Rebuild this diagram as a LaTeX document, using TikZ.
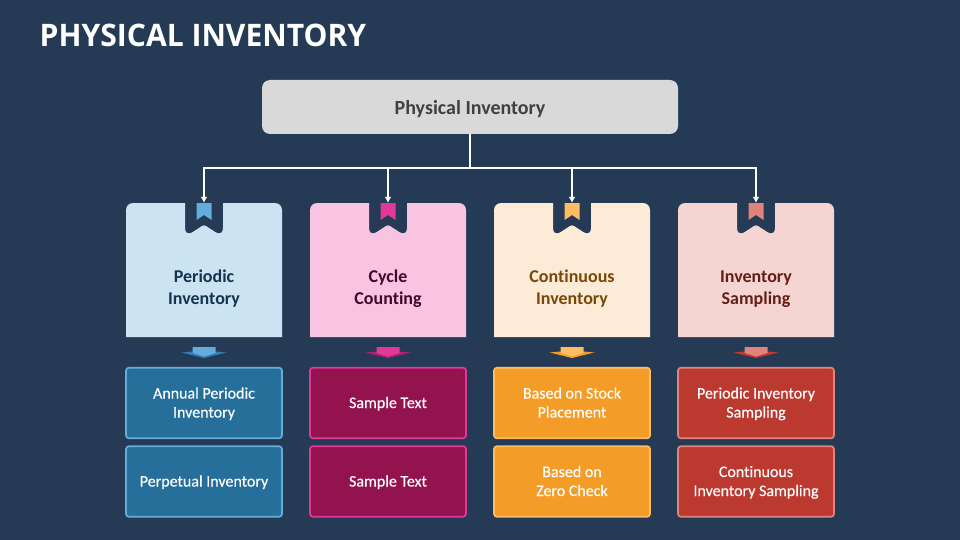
\documentclass[tikz,border=0pt]{standalone}
\usepackage{fontspec}
\setmainfont[Ligatures=NoCommon]{Carlito}
\newfontfamily\leaffont[Ligatures=NoCommon,FakeBold=0.25]{Carlito}
\newfontfamily\titlefont[FakeStretch=0.97]{Open Sans}
\definecolor{bg}{HTML}{253B55}
\definecolor{topfill}{HTML}{D9D9D9}
\definecolor{topink}{HTML}{404040}
\definecolor{cardA}{HTML}{CCE3F2}\definecolor{ribA}{HTML}{64ADDB}\definecolor{inkA}{HTML}{14344F}\definecolor{boxA}{HTML}{266F9B}\definecolor{edgeA}{HTML}{64ADDB}\definecolor{darkA}{HTML}{2F7FB3}
\definecolor{cardB}{HTML}{F8C4E2}\definecolor{ribB}{HTML}{E0399A}\definecolor{inkB}{HTML}{3D0A2A}\definecolor{boxB}{HTML}{93134F}\definecolor{edgeB}{HTML}{E0399A}\definecolor{darkB}{HTML}{B5206F}
\definecolor{cardC}{HTML}{FCEBD6}\definecolor{ribC}{HTML}{FDBB63}\definecolor{inkC}{HTML}{7A4708}\definecolor{boxC}{HTML}{F39C27}\definecolor{edgeC}{HTML}{FDBB63}\definecolor{darkC}{HTML}{F39C27}
\definecolor{cardD}{HTML}{F5D5D2}\definecolor{ribD}{HTML}{E0837A}\definecolor{inkD}{HTML}{641E16}\definecolor{boxD}{HTML}{BB392F}\definecolor{edgeD}{HTML}{E0837A}\definecolor{darkD}{HTML}{C0392B}
\usetikzlibrary{arrows.meta}
\tikzset{
 toplabel/.style={font=\fontsize{20}{22}\selectfont\bfseries,text=topink},
 topbox/.style={fill=topfill,rounded corners=8,minimum width=416,minimum height=54,inner sep=0,toplabel},
 cardlabel/.style={font=\fontsize{18}{22}\selectfont\bfseries,align=center,inner sep=0},
 leaf/.style={rounded corners=3,line width=1.8,minimum width=156,minimum height=70.5,inner sep=0},
 leaftext/.style={inner sep=0,yshift=-1.2,align=center,text=white,font=\leaffont\fontsize{16}{19}\selectfont},
 link/.style={draw=white,line width=1.9,-{Latex[length=6,width=7]}},
 trunk/.style={draw=white,line width=2.2},
 ribanchor/.style={inner sep=0,minimum width=15,minimum height=0}
}
% #1 centre x, #2 letter
\newcommand{\cardshape}[2]{%
 \fill[card#2] (#1-78,337) -- (#1-78,210) arc[start angle=180,end angle=90,x radius=7,y radius=-7] -- (#1-19,203)
   -- (#1-19,228) .. controls (#1-19,233) and (#1-16,234.5) .. (#1-12,232.5) -- (#1-2,226) .. controls (#1-0.7,225.2) and (#1+0.7,225.2) .. (#1+2,226) -- (#1+12,232.5) .. controls (#1+16,234.5) and (#1+19,233) .. (#1+19,228) -- (#1+19,203)
   -- (#1+71,203) arc[start angle=90,end angle=0,x radius=7,y radius=-7] -- (#1+78,337) -- cycle;
 \fill[rib#2] (#1-7.5,203) -- (#1+7.5,203) -- (#1+7.5,220) -- (#1,215) -- (#1-7.5,220) -- cycle;
 \fill[dark#2] (#1-22.5,352.5) -- (#1-11,351.5) -- (#1+11,351.5) -- (#1+22.5,352.5) -- (#1,358) -- cycle;
 \fill[rib#2] (#1-11.5,347) -- (#1+11.5,347) -- (#1+11.5,353) -- (#1,356.5) -- (#1-11.5,353) -- cycle;
}
\begin{document}
\begin{tikzpicture}[x=1pt,y=-1pt]
\useasboundingbox (0,0) rectangle (960,540);
\fill[bg] (0,0) rectangle (960,540);
\node[anchor=west,inner sep=0,text=white,font=\titlefont\fontsize{31}{36}\selectfont\bfseries] (title) at (39.5,35) {PHYSICAL INVENTORY};
\node[topbox] (top) at (470,107) {};
\node[toplabel,inner sep=0] (toptext) at (470,109) {Physical Inventory};
\cardshape{204}{A}\cardshape{388}{B}\cardshape{572}{C}\cardshape{756}{D}
\coordinate (bus) at (470,168);
\node[ribanchor] (r1) at (204,203) {};
\node[ribanchor] (r2) at (388,203) {};
\node[ribanchor] (r3) at (572,203) {};
\node[ribanchor] (r4) at (756,203) {};
\draw[trunk] (top.south) -- (bus);
\draw[link] (bus) -| (r1.north);
\draw[link] (bus) -| (r2.north);
\draw[link] (bus) -| (r3.north);
\draw[link] (bus) -| (r4.north);
\node[cardlabel,text=inkA] (c1) at (204,289) {Periodic\\Inventory};
\node[cardlabel,text=inkB] (c2) at (388,289) {Cycle\\Counting};
\node[cardlabel,text=inkC] (c3) at (572,289) {Continuous\\Inventory};
\node[cardlabel,text=inkD] (c4) at (756,289) {Inventory\\Sampling};
\node[leaf,fill=boxA,draw=edgeA] (a1) at (204,403) {};
\node[leaf,fill=boxA,draw=edgeA] (a2) at (204,481.5) {};
\node[leaf,fill=boxB,draw=edgeB] (b1) at (388,403) {};
\node[leaf,fill=boxB,draw=edgeB] (b2) at (388,481.5) {};
\node[leaf,fill=boxC,draw=edgeC] (d1) at (572,403) {};
\node[leaf,fill=boxC,draw=edgeC] (d2) at (572,481.5) {};
\node[leaf,fill=boxD,draw=edgeD] (e1) at (756,403) {};
\node[leaf,fill=boxD,draw=edgeD] (e2) at (756,481.5) {};
\node[leaftext] (ta1) at (a1.center) {\strut Annual Periodic\\\strut Inventory};
\node[leaftext] (ta2) at (a2.center) {\strut Perpetual Inventory};
\node[leaftext] (tb1) at (b1.center) {\strut Sample Text};
\node[leaftext] (tb2) at (b2.center) {\strut Sample Text};
\node[leaftext] (td1) at (d1.center) {\strut Based on Stock\\\strut Placement};
\node[leaftext] (td2) at (d2.center) {\strut Based on\\\strut Zero Check};
\node[leaftext] (te1) at (e1.center) {\strut Periodic Inventory\\\strut Sampling};
\node[leaftext] (te2) at (e2.center) {\strut Continuous\\\strut Inventory Sampling};
\end{tikzpicture}
\end{document}
